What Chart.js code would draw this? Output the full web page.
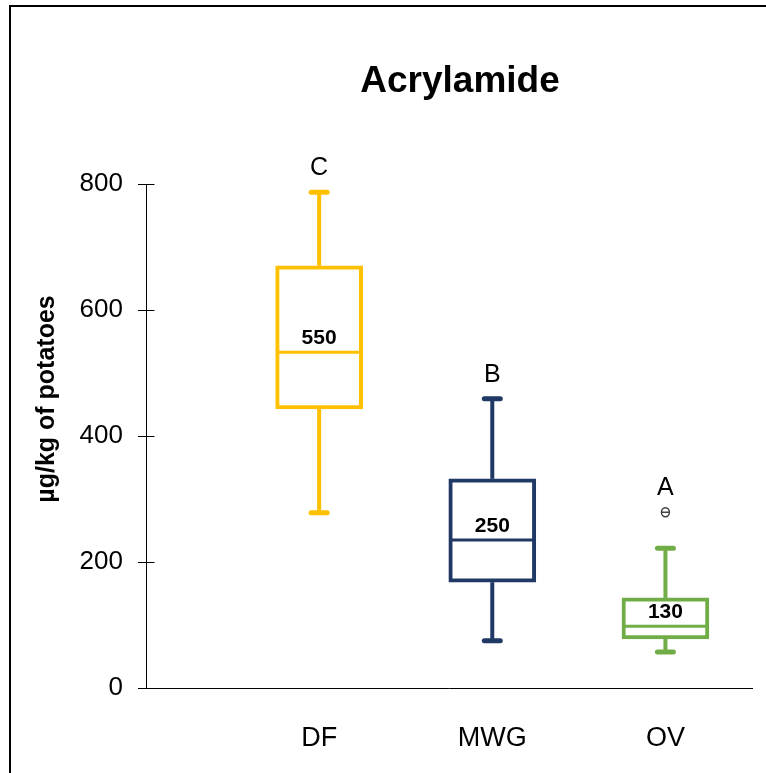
<!DOCTYPE html>
<html>
<head>
<meta charset="utf-8">
<script src="https://cdn.jsdelivr.net/npm/chart.js@4"></script>
<style>
  html, body { margin: 0; padding: 0; background: #ffffff; }
  canvas { display: block; }
</style>
</head>
<body>
<canvas id="chart" width="766" height="773"></canvas>
<script>
// Acrylamide content per cooking method (µg/kg of potatoes)
const categories   = ['DF', 'MWG', 'OV'];
const whiskerLow   = [278, 75, 57];
const quartile1    = [443, 168, 78];
const medians      = [533, 235, 98];
const quartile3    = [670, 332, 143];
const whiskerHigh  = [787, 459, 222];
const meanLabels   = [550, 250, 130];
const groupLetters = ['C', 'B', 'A'];
const outliers     = [[], [], [279]];
const yTicks       = [0, 200, 400, 600, 800];
const boxColors    = ['#FFC000', '#203864', '#70AD47'];

const FONT = '"Liberation Sans", Arial, sans-serif';

function strokeLine(ctx, x1, y1, x2, y2) {
  ctx.beginPath();
  ctx.moveTo(x1, y1);
  ctx.lineTo(x2, y2);
  ctx.stroke();
}

// Whiskers, caps, medians, outliers, annotations, frame and titles
const boxExtras = {
  id: 'boxExtras',
  beforeDraw(chart) {
    const ctx = chart.ctx;
    ctx.save();
    ctx.fillStyle = '#ffffff';
    ctx.fillRect(0, 0, chart.width, chart.height);
    // outer frame (open to the right and bottom)
    ctx.strokeStyle = '#000000';
    ctx.lineWidth = 2;
    ctx.beginPath();
    ctx.moveTo(10, chart.height + 2);
    ctx.lineTo(10, 6);
    ctx.lineTo(chart.width + 2, 6);
    ctx.stroke();
    ctx.restore();
  },
  afterDatasetsDraw(chart) {
    const ctx = chart.ctx;
    const x = chart.scales.x;
    const y = chart.scales.y;
    const bars = chart.getDatasetMeta(0).data;

    categories.forEach((cat, i) => {
      const cx = x.getPixelForValue(i + 1);
      const bar = bars[i];
      const half = bar.width / 2;
      const yQ1 = y.getPixelForValue(quartile1[i]);
      const yQ3 = y.getPixelForValue(quartile3[i]);
      const yLo = y.getPixelForValue(whiskerLow[i]);
      const yHi = y.getPixelForValue(whiskerHigh[i]);
      const yMed = y.getPixelForValue(medians[i]);

      ctx.save();
      ctx.strokeStyle = boxColors[i];

      // whiskers
      ctx.lineWidth = 4;
      ctx.lineCap = 'butt';
      strokeLine(ctx, cx, yQ3, cx, yHi);
      strokeLine(ctx, cx, yQ1, cx, yLo);

      // whisker caps
      ctx.lineWidth = 5;
      ctx.lineCap = 'round';
      strokeLine(ctx, cx - 8, yHi, cx + 8, yHi);
      strokeLine(ctx, cx - 8, yLo, cx + 8, yLo);

      // median
      ctx.lineWidth = 3;
      ctx.lineCap = 'butt';
      strokeLine(ctx, cx - half + 2, yMed, cx + half - 2, yMed);

      // outliers
      let topPx = yHi;
      outliers[i].forEach(v => {
        const oy = y.getPixelForValue(v);
        topPx = Math.min(topPx, oy);
        ctx.strokeStyle = '#3a3a3a';
        ctx.lineWidth = 1.4;
        ctx.beginPath();
        ctx.ellipse(cx, oy, 4, 4.5, 0, 0, Math.PI * 2);
        ctx.stroke();
        strokeLine(ctx, cx - 4, oy, cx + 4, oy);
      });

      // mean value label inside the box
      ctx.fillStyle = '#000000';
      ctx.font = 'bold 21px ' + FONT;
      ctx.textAlign = 'center';
      ctx.textBaseline = 'middle';
      ctx.fillText(String(meanLabels[i]), cx, yMed - 14);

      // significance group letter
      ctx.font = '25px ' + FONT;
      ctx.fillText(groupLetters[i], cx, topPx - 24);
      ctx.restore();
    });
  },
  afterDraw(chart) {
    const ctx = chart.ctx;
    const y = chart.scales.y;
    const ax = Math.round(chart.chartArea.left) + 0.5;
    ctx.save();
    // tick marks also cross to the inside of the value axis
    ctx.strokeStyle = '#000000';
    ctx.lineWidth = 1;
    yTicks.forEach(v => {
      const py = Math.round(y.getPixelForValue(v)) + 0.5;
      strokeLine(ctx, ax, py, ax + 8, py);
    });

    // chart title
    ctx.fillStyle = '#000000';
    ctx.textAlign = 'center';
    ctx.textBaseline = 'middle';
    ctx.font = 'bold 37px ' + FONT;
    ctx.fillText('Acrylamide', 460, 82);

    // value axis title
    ctx.translate(47, 399);
    ctx.rotate(-Math.PI / 2);
    ctx.font = 'bold 25px ' + FONT;
    ctx.fillText('µg/kg of potatoes', 0, 0);
    ctx.restore();
  }
};

new Chart(document.getElementById('chart'), {
  type: 'bar',
  data: {
    datasets: [{
      data: categories.map((c, i) => ({ x: i + 1, y: [quartile1[i], quartile3[i]] })),
      backgroundColor: '#ffffff',
      borderColor: boxColors,
      borderWidth: 4,
      borderSkipped: false,
      barThickness: 87
    }]
  },
  options: {
    responsive: false,
    devicePixelRatio: 1,
    animation: false,
    layout: { padding: { left: 0, top: 184, right: 14, bottom: 0 } },
    plugins: {
      legend: { display: false },
      tooltip: { enabled: false },
      title: { display: false }
    },
    scales: {
      x: {
        type: 'linear',
        min: 0,
        max: 3.5,
        offset: false,
        grid: { display: false, offset: false, drawTicks: false },
        border: { display: true, color: '#000000', width: 1 },
        afterBuildTicks(scale) {
          scale.ticks = categories.map((c, i) => ({ value: i + 1 }));
        },
        afterFit(scale) { scale.height = 85; },
        ticks: {
          padding: 34,
          color: '#000000',
          font: { family: FONT, size: 27 },
          maxRotation: 0,
          autoSkip: false,
          callback: (v) => categories[v - 1] ?? ''
        }
      },
      y: {
        type: 'linear',
        min: 0,
        max: 800,
        afterBuildTicks(scale) {
          scale.ticks = yTicks.map(v => ({ value: v }));
        },
        afterFit(scale) { scale.width = 146; },
        grid: {
          drawOnChartArea: false,
          drawTicks: true,
          tickLength: 8,
          color: '#000000',
          lineWidth: 1
        },
        border: { display: true, color: '#000000', width: 1 },
        ticks: {
          padding: 15,
          color: '#000000',
          font: { family: FONT, size: 26 }
        }
      }
    }
  },
  plugins: [boxExtras]
});
</script>
</body>
</html>
